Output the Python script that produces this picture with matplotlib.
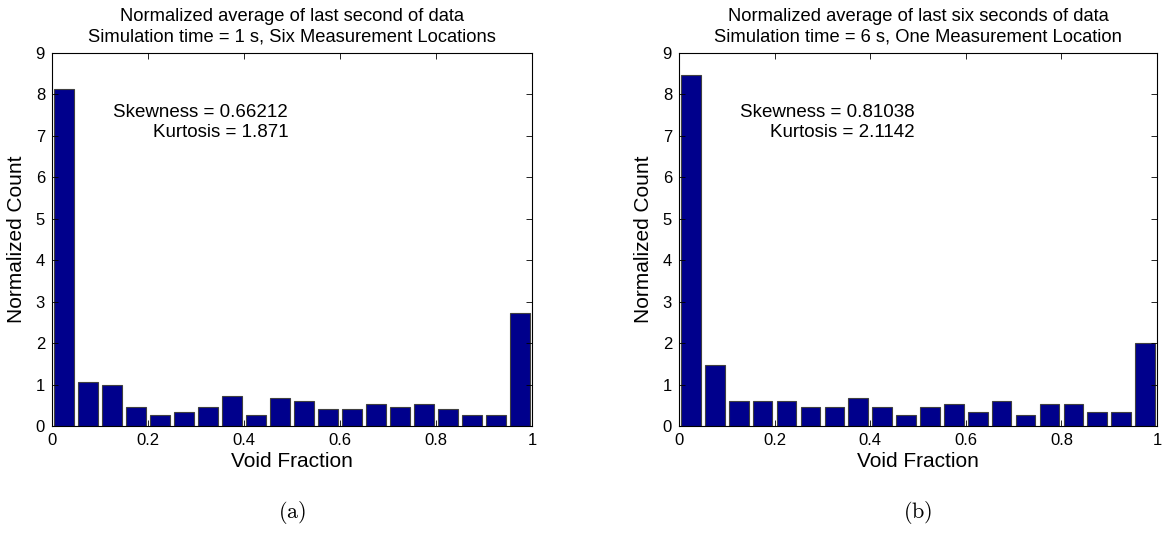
import numpy as np
import matplotlib.pyplot as plt

plt.rcParams['font.family'] = ['Liberation Sans', 'DejaVu Sans']
plt.rcParams['mathtext.fontset'] = 'cm'

# bin centres of the 20-bin histograms (void fraction)
centers = np.arange(0.025, 1.0, 0.05)

# normalized counts
counts_a = [8.133, 1.067, 1.0, 0.467, 0.267, 0.333, 0.467, 0.733, 0.267, 0.667,
            0.6, 0.4, 0.4, 0.533, 0.467, 0.533, 0.4, 0.267, 0.267, 2.733]
counts_b = [8.467, 1.467, 0.6, 0.6, 0.6, 0.467, 0.467, 0.667, 0.467, 0.267,
            0.467, 0.533, 0.333, 0.6, 0.267, 0.533, 0.533, 0.333, 0.333, 2.0]

titles = ["Normalized average of last second of data\nSimulation time = 1 s, Six Measurement Locations",
          "Normalized average of last six seconds of data\nSimulation time = 6 s, One Measurement Location"]
stats = ["Skewness = 0.66212\nKurtosis = 1.871",
         "Skewness = 0.81038\nKurtosis = 2.1142"]
captions = [r"$\mathrm{(a)}$", r"$\mathrm{(b)}$"]

W, H = 1165, 535
fig = plt.figure(figsize=(W / 100, H / 100), dpi=100)

boxes = [(52, 53, 532, 426), (679, 53, 1157, 426)]
for i, counts in enumerate([counts_a, counts_b]):
    x0, y0, x1, y1 = boxes[i]
    ax = fig.add_axes([x0 / W, 1 - y1 / H, (x1 - x0) / W, (y1 - y0) / H])
    ax.bar(centers, counts, width=0.041, color='#00008c', edgecolor='#404040', linewidth=0.8)
    ax.set_xlim(0, 1)
    ax.set_ylim(0, 9)
    ax.set_xticks([0, 0.2, 0.4, 0.6, 0.8, 1])
    ax.set_xticklabels(['0', '0.2', '0.4', '0.6', '0.8', '1'])
    ax.set_yticks(range(10))
    ax.tick_params(direction='in', top=True, right=True, labelsize=12, length=4, width=0.6, pad=5)
    for s in ax.spines.values():
        s.set_linewidth(0.8)
    ax.set_title(titles[i], fontsize=13.2, pad=8, linespacing=1.3)
    ax.set_xlabel("Void Fraction", fontsize=15, labelpad=3)
    ax.set_ylabel("Normalized Count", fontsize=15, labelpad=7)
    ax.text(0.128, 7.33, stats[i], fontsize=13.5, ha='left', va='center',
            multialignment='right', linespacing=1.2)
    fig.text((x0 + x1) / 2 / W, 1 - 513 / H, captions[i], fontsize=16, ha='center', va='center')

fig.savefig('out.png', dpi=100)
